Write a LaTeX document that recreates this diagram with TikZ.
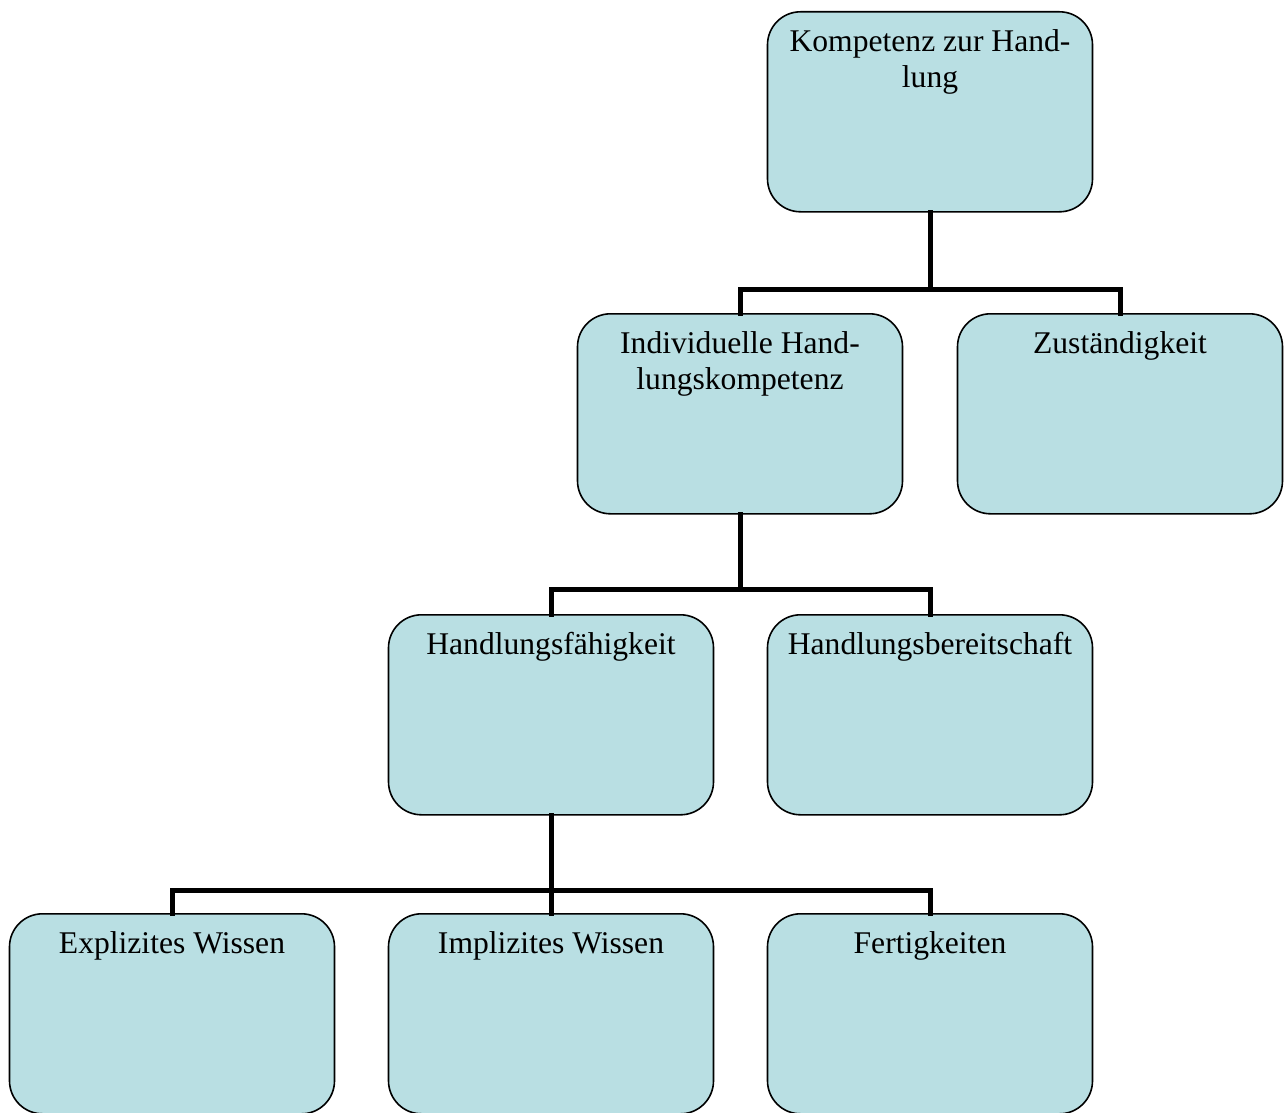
\documentclass[tikz,border=0pt]{standalone}
\usepackage{fontspec}
\setmainfont{Liberation Serif}
\definecolor{boxfill}{RGB}{185,223,227}
\begin{document}
\begin{tikzpicture}[x=1pt,y=-1pt,
  box/.style={draw=black, line width=1.6pt, fill=boxfill, rounded corners=33pt,
    minimum width=325pt, minimum height=200pt, inner sep=0pt, anchor=north},
  lbl/.style={anchor=north, inner sep=0pt, align=center,
    font=\fontsize{31.6}{36.5}\selectfont, yshift=-14.4pt},
  conn/.style={draw=black, line width=5pt, line join=miter, line cap=rect}]
\useasboundingbox (0,0) rectangle (1288,1113);

% boxes (top-centre positions)
\node[box] (kzh) at (930,11)  {};
\node[box] (ihk) at (740,313) {};
\node[box] (zst) at (1120,313) {};
\node[box] (hfk) at (551,614) {};
\node[box] (hbs) at (930,614) {};
\node[box] (exw) at (172,913) {};
\node[box] (imw) at (551,913) {};
\node[box] (fer) at (930,913) {};

% labels, set at the top of each box
\node[lbl] at (kzh.north) {\strut Kompetenz zur Hand-\\lung};
\node[lbl] at (ihk.north) {\strut Individuelle Hand-\\lungskompetenz};
\node[lbl] at (zst.north) {\strut Zuständigkeit};
\node[lbl] at (hfk.north) {\strut Handlungsfähigkeit};
\node[lbl] at (hbs.north) {\strut Handlungsbereitschaft};
\node[lbl] at (exw.north) {\strut Explizites Wissen};
\node[lbl] at (imw.north) {\strut Implizites Wissen};
\node[lbl] at (fer.north) {\strut Fertigkeiten};

% branch points
\coordinate (j1) at (930,289);
\coordinate (j2) at (740,589);
\coordinate (j3) at (551,890);

% connectors
\draw[conn] (kzh.south) -- (j1);
\draw[conn] (j1) -| (ihk.north);
\draw[conn] (j1) -| (zst.north);
\draw[conn] (ihk.south) -- (j2);
\draw[conn] (j2) -| (hfk.north);
\draw[conn] (j2) -| (hbs.north);
\draw[conn] (hfk.south) -- (j3);
\draw[conn] (j3) -| (exw.north);
\draw[conn] (j3) -- (imw.north);
\draw[conn] (j3) -| (fer.north);
\end{tikzpicture}
\end{document}
